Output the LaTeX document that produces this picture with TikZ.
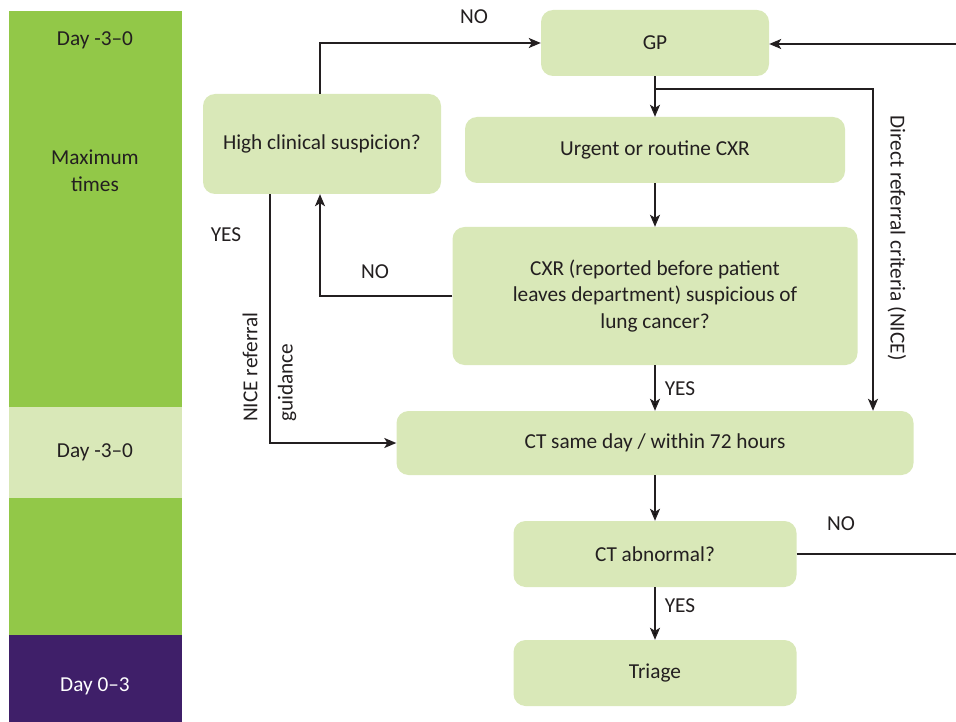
\documentclass[tikz,border=0pt]{standalone}
\usepackage{fontspec}
\setmainfont{Carlito}
\usetikzlibrary{arrows.meta}
\definecolor{bandgreen}{RGB}{146,200,72}
\definecolor{boxgreen}{RGB}{217,232,184}
\definecolor{bandpurple}{RGB}{63,31,105}
\definecolor{inkgray}{RGB}{35,31,32}
\begin{document}
\begin{tikzpicture}[x=1pt,y=-1pt,
    box node/.style={rounded corners=12pt,fill=boxgreen,text=inkgray,align=center,inner sep=0pt,font=\fontsize{21.3}{26.5}\selectfont},
    tag/.style={text=inkgray,inner sep=0pt,align=center,font=\fontsize{21.3}{26.5}\selectfont},
    flow/.style={draw=inkgray,line width=1.8pt,-{Stealth[length=12pt,width=10pt,inset=3pt]}}]
    \useasboundingbox (0,0) rectangle (956,722);
    % time band
    \fill [bandgreen] (9,11) rectangle (182,407);
    \fill [boxgreen] (9,407) rectangle (182,498);
    \fill [bandgreen] (9,498) rectangle (182,635);
    \fill [bandpurple] (9,635) rectangle (182,722);
    \node [tag] (day1) at (95,40) {Day -3–0};
    \node [tag] (max) at (95,171) {Maximum\\times};
    \node [tag] (day2) at (95,452) {Day -3–0};
    \node [tag, text=white] (day3) at (95,686) {Day 0–3};
    % boxes
    \node [box node, minimum width=228pt, minimum height=66pt] (gp) at (655,43) {GP};
    \node [box node, minimum width=238pt, minimum height=100pt] (high) at (322,144) {High clinical suspicion?};
    \node [box node, minimum width=380pt, minimum height=66pt] (cxr) at (655,150) {Urgent or routine CXR};
    \node [box node, minimum width=405pt, minimum height=138pt] (susp) at (655,296) {CXR (reported before patient\\leaves department) suspicious of\\lung cancer?};
    \node [box node, minimum width=517pt, minimum height=64pt] (ct) at (655,443) {CT same day / within 72 hours};
    \node [box node, minimum width=283pt, minimum height=66pt] (abn) at (655,554) {CT abnormal?};
    \node [box node, minimum width=283pt, minimum height=66pt] (triage) at (655,673) {Triage};
    % connectors
    \coordinate (direct) at (873,89);
    \coordinate (rin) at (956,44);
    \coordinate (rout) at (956,554);
    \path [flow] (gp) edge (cxr);
    \path [flow] (cxr) edge (susp);
    \path [flow] (susp) edge (ct);
    \path [flow] (ct) edge (abn);
    \path [flow] (abn) edge (triage);
    \draw [flow] ([xshift=-2pt]high.north) |- (gp.west);
    \draw [flow] (rin) -- (rin -| gp.east);
    \draw [flow] (gp.south |- direct) -- (direct) -- (direct |- ct.north);
    \draw [flow] (susp.west) -| ([xshift=-2pt]high.south);
    \draw [flow] ([xshift=-52pt]high.south) |- (ct.west);
    \draw [flow, -] (abn.east) -- (abn.east -| rout);
    % labels
    \node [tag] (no1) at (474,17) {NO};
    \node [tag] (no2) at (375,272) {NO};
    \node [tag] (no3) at (841,524) {NO};
    \node [tag] (yes1) at (226,235) {YES};
    \node [tag] (yes2) at (680,389) {YES};
    \node [tag] (yes3) at (680,606) {YES};
    \node [tag, rotate=-90] (nicedirect) at (897,238) {Direct referral criteria (NICE)};
    \node [tag, rotate=90, anchor=west] (nice) at (250,422) {NICE referral};
    \node [tag, rotate=90, anchor=west] (guide) at (287,422) {guidance};
\end{tikzpicture}
\end{document}
